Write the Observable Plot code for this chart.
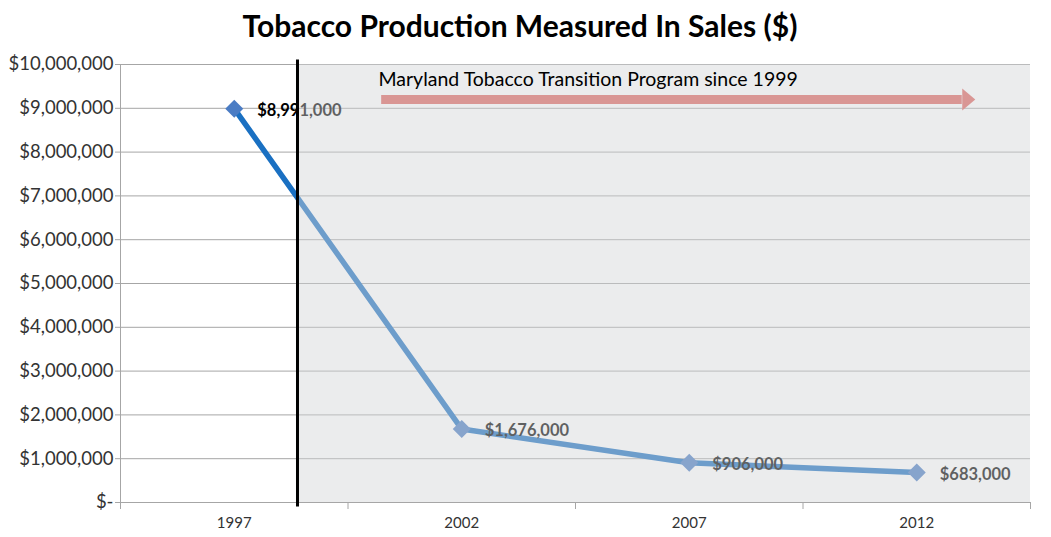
<!DOCTYPE html>
<html>
<head>
<meta charset="utf-8">
<script src="https://cdn.jsdelivr.net/npm/d3@7"></script>
<script src="https://cdn.jsdelivr.net/npm/@observablehq/plot@0.6"></script>
<style>
  body { margin: 0; background: #fff; font-family: Lato, "Open Sans", sans-serif; }
  #title { width: 1040px; height: 50px; line-height: 50px; text-align: center; font-size: 30px; font-weight: 700; color: #000; }
</style>
</head>
<body>
<div id="title">Tobacco Production Measured In Sales ($)</div>
<div id="chart"></div>
<script>
const years = [1997, 2002, 2007, 2012];
const sales = [8991000, 1676000, 906000, 683000];
const yTicks = [0, 1000000, 2000000, 3000000, 4000000, 5000000, 6000000, 7000000, 8000000, 9000000, 10000000];
const categoryEdges = [1994.5, 1999.5, 2004.5, 2009.5, 2014.5];
const programLine = 1998.39;
const programLabel = "Maryland Tobacco Transition Program since 1999";
const arrowStart = 2000.24, arrowEnd = 2013.0, arrowValue = 9200000, labelValue = 9650000, labelStart = 2000.17;

const fmtMoney = v => v === 0 ? "$-" : "$" + d3.format(",")(v);
const points = years.map((y, i) => ({year: y, value: sales[i], label: fmtMoney(sales[i])}));
const overlay = [{x1: programLine, x2: categoryEdges[categoryEdges.length - 1], y1: 0, y2: yTicks[yTicks.length - 1]}];

const arrowHead = {
  draw(context) {
    context.moveTo(0, -11);
    context.lineTo(13, 0);
    context.lineTo(0, 11);
    context.closePath();
  }
};

const chart = Plot.plot({
  width: 1051,
  height: 487,
  marginTop: 14,
  marginBottom: 35,
  marginLeft: 120,
  marginRight: 21,
  style: {fontFamily: "Lato, 'Open Sans', sans-serif", background: "transparent"},
  x: {domain: [categoryEdges[0], categoryEdges[categoryEdges.length - 1]]},
  y: {domain: [0, 10000000]},
  marks: [
    Plot.gridY(yTicks, {stroke: "#a6a6a6", strokeOpacity: 1}),
    Plot.ruleX([categoryEdges[0]], {stroke: "#a6a6a6"}),
    Plot.ruleY([0], {stroke: "#a6a6a6"}),
    Plot.axisY({ticks: yTicks, tickFormat: fmtMoney, tickSize: 5, tickPadding: 2, fontSize: 18.5, color: "#333", stroke: "#a6a6a6", label: null}),
    Plot.axisX({ticks: categoryEdges, tickFormat: () => "", tickSize: 7, stroke: "#a6a6a6", label: null}),
    Plot.axisX({ticks: years, tickFormat: d => String(d), tickSize: 0, tickPadding: 15, fontSize: 15, color: "#333", label: null}),
    Plot.line(points, {x: "year", y: "value", stroke: "#1a70c2", strokeWidth: 5.5}),
    Plot.dot(points, {x: "year", y: "value", symbol: "square", rotate: 45, r: 7.2, fill: "#4a7cc4", stroke: "none"}),
    Plot.text(points, {x: "year", y: "value", text: "label", dx: 23, dy: 2, textAnchor: "start", fontSize: 16.5, fontWeight: "bold", fill: "#000"}),
    Plot.rect(overlay, {x1: "x1", x2: "x2", y1: "y1", y2: "y2", fill: "#d2d4d6", fillOpacity: 0.45}),
    Plot.ruleX([programLine], {y1: -100000, y2: 10100000, stroke: "#000", strokeWidth: 3}),
    Plot.ruleY([arrowValue], {x1: arrowStart, x2: arrowEnd, stroke: "#d99694", strokeWidth: 9}),
    Plot.dot([arrowValue], {x: arrowEnd, y: d => d, symbol: arrowHead, r: 9, fill: "#d99694", stroke: "none"}),
    Plot.text([programLabel], {x: labelStart, y: labelValue, text: d => d, textAnchor: "start", fontSize: 19.5, fill: "#000"})
  ]
});
document.getElementById("chart").appendChild(chart);
</script>
</body>
</html>
